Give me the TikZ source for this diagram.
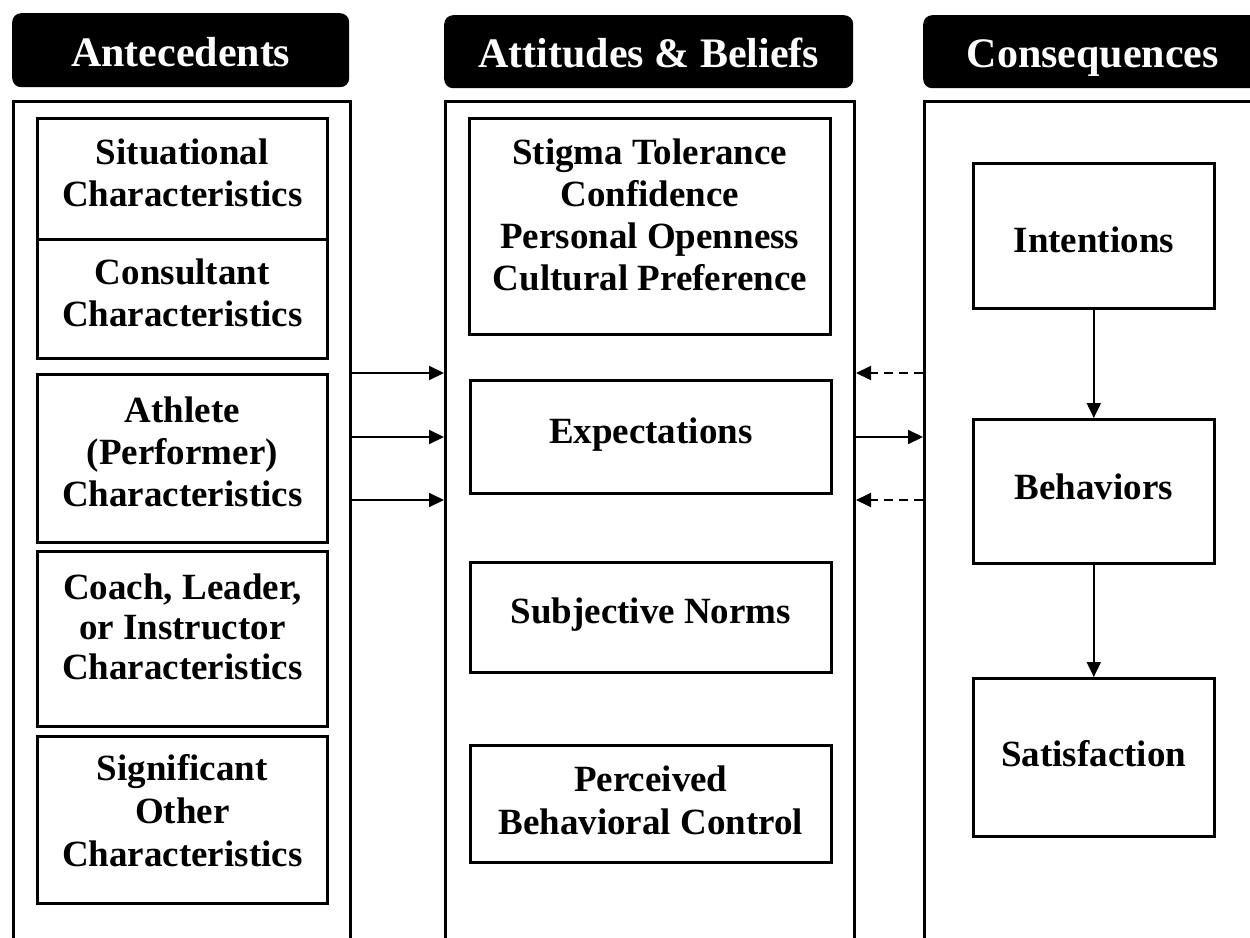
\documentclass[tikz,border=0pt]{standalone}
\usepackage{fontspec}
\setmainfont{Liberation Serif}
\usetikzlibrary{arrows.meta}
\begin{document}
\begin{tikzpicture}[x=1pt,y=-1pt,
  hdr/.style={fill=black, rounded corners=9pt, text=white, font=\bfseries\fontsize{42}{46}\selectfont, inner sep=0pt, anchor=north west, align=flush center},
  col/.style={draw, line width=3pt, anchor=north west, inner sep=0pt, minimum height=900pt},
  box/.style={draw, line width=2.6pt, anchor=north west, inner sep=0pt, align=flush center, font=\bfseries\fontsize{37}{42}\selectfont},
  arr/.style={line width=2pt, -{Triangle[length=15pt,width=14pt]}},
  darr/.style={arr, dash pattern=on 9pt off 6pt}
]
\useasboundingbox (0,0) rectangle (1250,937);
\clip (0,0) rectangle (1250,937);
% headers
\node[hdr, text width=337pt, text height=53pt, text depth=21pt] (h1) at (12,13) {Antecedents};
\node[hdr, text width=409pt, text height=52pt, text depth=21pt] (h2) at (444,15) {Attitudes \& Beliefs};
\node[hdr, text width=339pt, text height=52pt, text depth=21pt] (h3) at (923,15) {Consequences};
% columns
\node[col, minimum width=337pt] (c1) at (12,100) {};
\node[col, minimum width=409pt] (c2) at (444,100) {};
\node[col, minimum width=339pt] (c3) at (923,100) {};
% antecedents
\node[box, text width=290pt, text height=46pt, text depth=75pt] (sit) at (36,117) {Situational\\Characteristics};
\node[box, text width=290pt, text height=45pt, text depth=74pt] (con) at (36,238) {Consultant\\Characteristics};
\node[box, text width=290pt, text height=48pt, text depth=120pt] (ath) at (36,373) {Athlete\\(Performer)\\Characteristics};
\node[box, text width=290pt, text height=48pt, text depth=127pt, font=\bfseries\fontsize{37}{40}\selectfont] (coa) at (36,550) {Coach, Leader,\\or Instructor\\Characteristics};
\node[box, text width=290pt, text height=44pt, text depth=123pt, font=\bfseries\fontsize{37}{43}\selectfont] (sig) at (36,735) {Significant\\Other\\Characteristics};
% attitudes
\node[box, text width=361pt, text height=46pt, text depth=170pt] (sti) at (468,117) {Stigma Tolerance\\Confidence\\Personal Openness\\Cultural Preference};
\node[box, text width=361pt, text height=63pt, text depth=50pt] (exp) at (469,379) {Expectations};
\node[box, text width=361pt, text height=61pt, text depth=49pt] (sub) at (469,561) {Subjective Norms};
\node[box, text width=361pt, text height=46pt, text depth=71pt, font=\bfseries\fontsize{37}{43}\selectfont] (per) at (469,744) {Perceived\\Behavioral Control};
% consequences
\node[box, text width=241pt, text height=89pt, text depth=56pt] (int) at (972,162) {Intentions};
\node[box, text width=241pt, text height=80pt, text depth=64pt] (beh) at (972,418) {Behaviors};
\node[box, text width=241pt, text height=88pt, text depth=70pt] (sat) at (972,677) {Satisfaction};
% arrow levels
\coordinate (ya) at (0,373);
\coordinate (yb) at (0,437);
\coordinate (yc) at (0,500);
\draw[arr] (c1.east |- ya) -- (c2.west |- ya);
\draw[arr] (c1.east |- yb) -- (c2.west |- yb);
\draw[arr] (c1.east |- yc) -- (c2.west |- yc);
\draw[darr] (c3.west |- ya) -- (c2.east |- ya);
\draw[arr] (c2.east |- yb) -- (c3.west |- yb);
\draw[darr] (c3.west |- yc) -- (c2.east |- yc);
\draw[arr] (int.south) -- (beh.north);
\draw[arr] (beh.south) -- (sat.north);
\end{tikzpicture}
\end{document}
